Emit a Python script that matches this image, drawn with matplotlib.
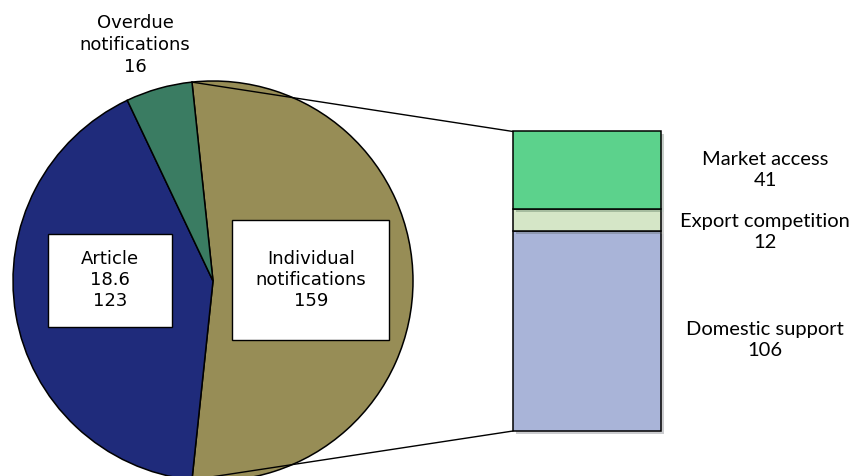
import numpy as np
import matplotlib
matplotlib.use('Agg')
import matplotlib.pyplot as plt
from matplotlib.patches import Rectangle, ConnectionPatch
from matplotlib.transforms import blended_transform_factory
import matplotlib.patheffects as pe

# --- Data ---
pie_labels = ['Individual\nnotifications', 'Article\n18.6', 'Overdue\nnotifications']
pie_values = [159, 123, 16]
pie_colors = ['#978D56', '#1F2B7B', '#3A7C62']

bar_labels = ['Domestic support', 'Export competition', 'Market access']
bar_values = [106, 12, 41]
bar_colors = ['#A9B4D8', '#D5E6C7', '#5CD28C']

W, H = 850, 476
fig = plt.figure(figsize=(W / 100, H / 100), dpi=100)
ax = fig.add_axes([0, 0, 1, 1])

# --- Pie (Individual notifications split out to the bar) ---
cx, cy, r = 213, 195, 200
split_half = pie_values[0] / sum(pie_values) * 180.0
wedges, _ = ax.pie(pie_values, colors=pie_colors, startangle=split_half,
                   counterclock=False, center=(cx, cy), radius=r, frame=True,
                   wedgeprops=dict(edgecolor='black', linewidth=1.1))
ax.set_xlim(0, W)
ax.set_ylim(0, H)
ax.set_aspect('equal')
ax.axis('off')

# label boxes inside the pie
FONT_PIE = 'DejaVu Sans'
boxes = [
    (pie_labels[1] + f'\n{pie_values[1]}', cx - 103, cy + 1, 124, 93),
    (pie_labels[0] + f'\n{pie_values[0]}', cx + 98, cy + 1, 157, 120),
]
for txt, x, y, bw, bh in boxes:
    ax.add_patch(Rectangle((x - bw / 2, y - bh / 2), bw, bh, facecolor='white',
                           edgecolor='black', linewidth=1, zorder=3))
    ax.text(x, y, txt, ha='center', va='center', fontsize=13, family=FONT_PIE,
            linespacing=1.25, zorder=4)

ax.text(cx - 78, cy + 236, pie_labels[2] + f'\n{pie_values[2]}', ha='center',
        va='center', fontsize=13, family=FONT_PIE, linespacing=1.25)

# --- Stacked bar ---
ax_bar = fig.add_axes([513 / W, 45 / H, 148 / W, 299.5 / H])
bottom = 0
mids = []
for v, c in zip(bar_values, bar_colors):
    ax_bar.bar(0, v, width=1.0, bottom=bottom, color=c, edgecolor='black',
               linewidth=1.1, clip_on=False,
               path_effects=[pe.SimplePatchShadow(offset=(2, -2), alpha=0.25),
                             pe.Normal()])
    mids.append(bottom + v / 2)
    bottom += v
ax_bar.set_xlim(-0.5, 0.5)
ax_bar.set_ylim(0, bottom)
ax_bar.axis('off')

trans = blended_transform_factory(ax_bar.transAxes, ax_bar.transData)
label_shift = [-9, -12, 0]
for lab, v, m, dy in zip(bar_labels, bar_values, mids, label_shift):
    ax_bar.annotate(f'{lab}\n{v}', xy=(1.705, m), xycoords=trans,
                    xytext=(0, dy), textcoords='offset pixels',
                    ha='center', va='center', fontsize=14.5, family='Lato',
                    linespacing=1.3, annotation_clip=False)

# --- Connector lines ---
a = np.deg2rad(split_half)
top_pt = (cx + r * np.cos(a), cy + r * np.sin(a))
bot_pt = (cx + r * np.cos(-a), cy + r * np.sin(-a))
for p, q in [(top_pt, (-0.5, bottom)), (bot_pt, (-0.5, 0))]:
    con = ConnectionPatch(xyA=p, coordsA=ax.transData, xyB=q, coordsB=ax_bar.transData,
                          color='black', linewidth=1)
    fig.add_artist(con)

fig.savefig('out.png', dpi=100)
